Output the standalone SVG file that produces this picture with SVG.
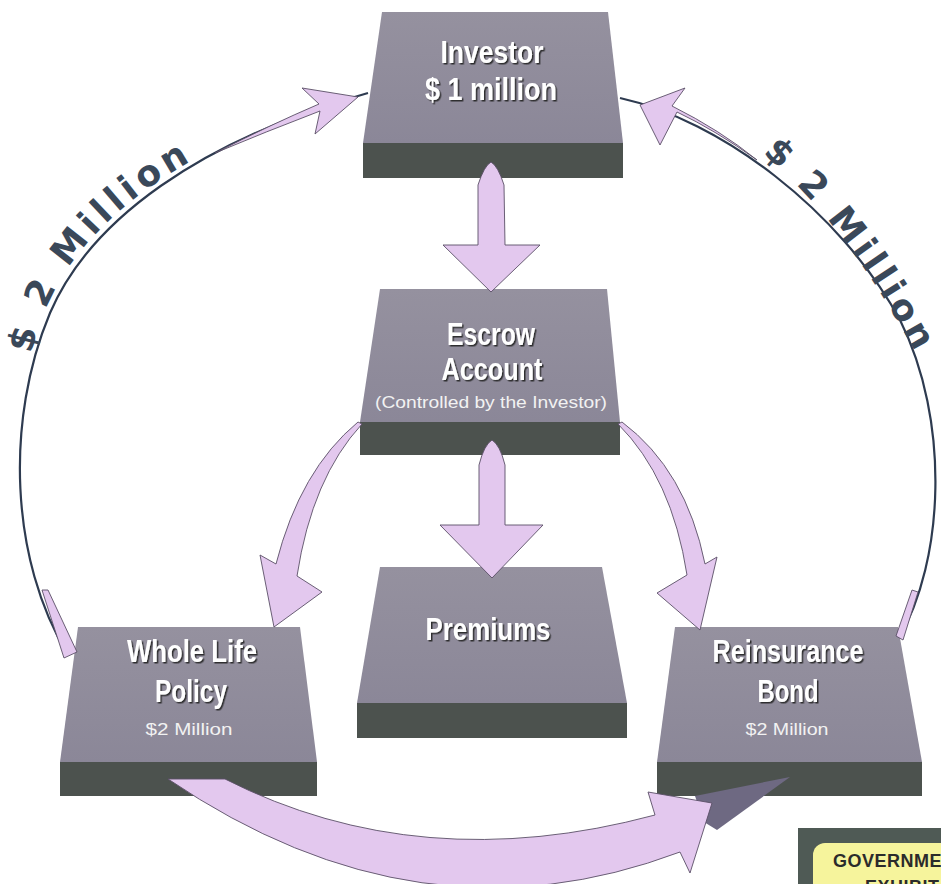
<svg xmlns="http://www.w3.org/2000/svg" width="941" height="884" viewBox="0 0 941 884">
<style>
.top{fill:url(#topg);}
.front{fill:#4c524e;}
.t{font-family:"Liberation Sans",Arial,sans-serif;font-weight:bold;font-size:31px;fill:#ffffff;text-anchor:middle;filter:url(#sh);}
.s{font-family:"Liberation Sans",Arial,sans-serif;font-size:16px;fill:#f2f2f2;text-anchor:middle;}
.arc{fill:none;stroke:#2e3b50;stroke-width:2.2;}
.pink{fill:#e3c8ee;stroke:#5a4f66;stroke-width:0.9;stroke-linejoin:round;}
.arct{font-family:"DejaVu Sans",Verdana,sans-serif;font-weight:bold;font-size:36px;fill:#3a4859;}
</style>
<defs>
<linearGradient id="topg" x1="0" y1="0" x2="0" y2="1">
<stop offset="0" stop-color="#95919f"/>
<stop offset="1" stop-color="#8b8798"/>
</linearGradient>
<filter id="sh" x="-10%" y="-10%" width="130%" height="140%">
<feDropShadow dx="1.5" dy="1.5" stdDeviation="0.6" flood-color="#222" flood-opacity="0.9"/>
</filter>
<path id="lp" d="M29,376 C35,290 100,195 250,133"/>
<path id="rp" d="M735,133 C810,185 870,265 930,380"/>
</defs>
<rect width="941" height="884" fill="#ffffff"/>

<g id="connector-lines">
<path class="arc" d="M68,655 C10,560 5,420 50,313 C90,220 200,140 368,93"/>
<path class="arc" d="M620,98 C720,120 840,210 900,320 C950,420 945,560 898,640"/>
<text class="arct"><textPath href="#lp" startOffset="22" textLength="258" lengthAdjust="spacing">$ 2 Million</textPath></text>
<text class="arct"><textPath href="#rp" startOffset="34" textLength="252" lengthAdjust="spacing">$ 2 Million</textPath></text>
</g>

<g id="investor">
<polygon class="top" points="382,12 608,12 623,143 363,143"/>
<rect class="front" x="363" y="143" width="260" height="35"/>
<text class="t" x="492" y="63" textLength="103" lengthAdjust="spacingAndGlyphs">Investor</text>
<text class="t" x="491" y="100" textLength="132" lengthAdjust="spacingAndGlyphs">$ 1 million</text>
</g>

<g id="escrow">
<polygon class="top" points="380,289 607,289 620,422 360,422"/>
<rect class="front" x="360" y="422" width="260" height="33"/>
<text class="t" x="491" y="345" textLength="88" lengthAdjust="spacingAndGlyphs">Escrow</text>
<text class="t" x="492" y="380" textLength="101" lengthAdjust="spacingAndGlyphs">Account</text>
<text class="s" x="491" y="408" textLength="232" lengthAdjust="spacingAndGlyphs">(Controlled by the Investor)</text>
</g>

<g id="premiums">
<polygon class="top" points="380,567 602,567 627,703 357,703"/>
<rect class="front" x="357" y="703" width="270" height="35"/>
<text class="t" x="488" y="640" textLength="125" lengthAdjust="spacingAndGlyphs">Premiums</text>
</g>

<g id="whole-life">
<polygon class="top" points="78,627 300,627 317,762 60,762"/>
<rect class="front" x="60" y="762" width="257" height="34"/>
<text class="t" x="192" y="662" textLength="130" lengthAdjust="spacingAndGlyphs">Whole Life</text>
<text class="t" x="191" y="702" textLength="72" lengthAdjust="spacingAndGlyphs">Policy</text>
<text class="s" x="189" y="735" textLength="87" lengthAdjust="spacingAndGlyphs">$2 Million</text>
</g>

<g id="reinsurance">
<polygon class="top" points="675,627 898,627 922,762 657,762"/>
<rect class="front" x="657" y="762" width="265" height="34"/>
<text class="t" x="788" y="662" textLength="151" lengthAdjust="spacingAndGlyphs">Reinsurance</text>
<text class="t" x="788" y="702" textLength="61" lengthAdjust="spacingAndGlyphs">Bond</text>
<text class="s" x="787" y="735" textLength="83" lengthAdjust="spacingAndGlyphs">$2 Million</text>
</g>

<g id="connectors">
<path class="pink" d="M491,162 Q498,166 504,185 L505,245 L540,245 L491,292 L443,245 L478,245 L478,185 Q484,166 491,162 Z"/>
<path class="pink" d="M492,440 Q500,445 505,465 L505,525 L543,525 L492,578 L440,525 L479,525 L479,465 Q484,445 492,440 Z"/>
<path class="pink" d="M358,422 Q300,470 276,564 L260,555 L274,627 L322,592 L297,576 Q312,478 362,424 Z"/>
<path class="pink" d="M622,422 Q686,470 705,564 L717,557 L700,630 L657,593 L687,575 Q672,478 618,424 Z"/>
<polygon class="pink" points="42,590 48,590 77,652 64,658"/>
<path class="pink" d="M215,153 Q270,125 319,104 L302,88 L358,97 L315,134 L320,111 Q265,132 215,153 Z"/>
<polygon class="pink" points="912,590 918,592 903,640 896,636"/>
<path class="pink" d="M757,160 Q715,130 677,112 L660,145 L640,105 L685,88 L672,106 Q720,130 757,160 Z"/>
<polygon points="695,796 790,777 717,830 704,822" fill="#6e6982"/>
<path class="pink" d="M225,779 Q420,878 655,815 L648,792 L712,803 L690,873 L680,852 Q420,950 168,779 Z"/>
</g>

<g id="exhibit">
<rect x="798" y="828" width="160" height="70" fill="#4f5a55"/>
<rect x="813" y="843" width="150" height="60" rx="12" fill="#f6f49c"/>
<text x="833" y="867" font-family="Liberation Sans, Arial, sans-serif" font-weight="bold" font-size="18" fill="#2b2b2b" letter-spacing="0.5">GOVERNMENT</text>
<text x="865" y="893" font-family="Liberation Sans, Arial, sans-serif" font-weight="bold" font-size="18" fill="#2b2b2b" letter-spacing="0.5">EXHIBIT</text>
</g>
</svg>
